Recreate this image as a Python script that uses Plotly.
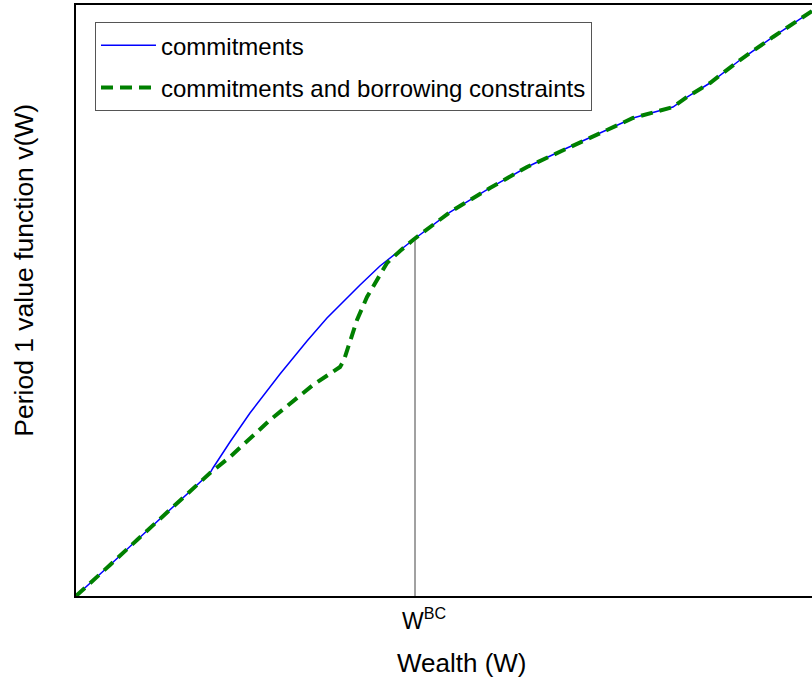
import plotly.graph_objects as go

# --- data (arbitrary units) ---
W_commit = [0.000, 0.231, 0.462, 0.829, 1.141, 1.508, 1.821, 1.861, 2.092,
            2.364, 2.772, 3.139, 3.410, 3.859, 4.130, 4.579, 5.082, 5.625,
            6.128, 6.671, 7.215, 7.568, 8.111, 8.302, 8.614, 9.022, 9.470, 10.0]
v_commit = [0.000, 0.271, 0.525, 0.948, 1.303, 1.726, 2.081, 2.166, 2.606,
            3.096, 3.756, 4.315, 4.704, 5.262, 5.584, 6.024, 6.497, 6.904,
            7.259, 7.580, 7.885, 8.088, 8.274, 8.443, 8.680, 9.069, 9.459, 9.898]

W_bc = [0.000, 0.231, 0.462, 0.829, 1.141, 1.508, 1.821, 2.092, 2.636, 3.220,
        3.587, 3.641, 3.818, 3.954, 4.226, 4.402, 4.579, 5.082, 5.625,
        6.128, 6.671, 7.215, 7.568, 8.111, 8.302, 8.614, 9.022, 9.470, 10.0]
v_bc = [0.000, 0.271, 0.525, 0.948, 1.303, 1.726, 2.081, 2.352, 2.978, 3.570,
        3.875, 3.993, 4.670, 5.059, 5.635, 5.838, 6.024, 6.497, 6.904,
        7.259, 7.580, 7.885, 8.088, 8.274, 8.443, 8.680, 9.069, 9.459, 9.898]

W_BC_value = 4.606
v_at_W_BC = 6.05
tick_labels = ["W<sup>BC</sup>"]

FONT = "Liberation Sans, Arial, sans-serif"

fig = go.Figure()
fig.add_trace(go.Scatter(
    x=[W_BC_value, W_BC_value], y=[0, v_at_W_BC], mode="lines",
    line=dict(color="#444444", width=1), showlegend=False, hoverinfo="skip"))
fig.add_trace(go.Scatter(
    x=W_commit, y=v_commit, mode="lines", name="commitments",
    line=dict(color="#0000ff", width=1.5), legendgroup="a"))
fig.add_trace(go.Scatter(
    x=W_bc, y=v_bc, mode="lines", name="commitments and borrowing constraints",
    line=dict(color="#008000", width=4, dash="12px,7px"), legendgroup="b"))

fig.add_annotation(text="Period 1 value function v(W)", textangle=-90,
                   xref="paper", yref="paper", x=-0.0707, y=0.552,
                   xanchor="center", yanchor="middle", showarrow=False,
                   font=dict(size=26.5))
fig.add_annotation(text="Wealth (W)", xref="paper", yref="paper",
                   x=0.5245, y=-0.1134, xanchor="center", yanchor="middle",
                   showarrow=False, font=dict(size=26))

fig.update_layout(
    width=812, height=679,
    margin=dict(l=76, r=0, t=5, b=83),
    plot_bgcolor="white", paper_bgcolor="white",
    font=dict(family=FONT, size=22, color="black"),
    showlegend=True,
    legend=dict(x=0.0258, y=0.971, xanchor="left", yanchor="top",
                bordercolor="#555555", borderwidth=1, bgcolor="white",
                font=dict(size=24), tracegroupgap=8, traceorder="grouped",
                itemwidth=55),
    xaxis=dict(range=[0, 10], showgrid=False, zeroline=False,
               showline=True, linecolor="black", linewidth=2, mirror=True,
               tickvals=[W_BC_value], ticktext=tick_labels, ticks="",
               tickfont=dict(size=23), ticklabelstandoff=3, ticklabelshift=9),
    yaxis=dict(range=[0, 10], showgrid=False, zeroline=False,
               showline=True, linecolor="black", linewidth=2,
               showticklabels=False, ticks=""),
)

fig.write_html("out.html", config={"displayModeBar": False},
               post_script="document.body.style.margin='0px';")
